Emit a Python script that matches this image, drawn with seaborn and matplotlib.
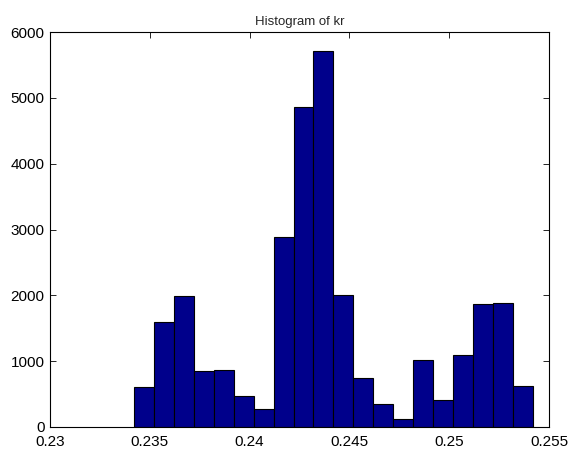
import numpy as np
import pandas as pd
import matplotlib
matplotlib.use("Agg")
import matplotlib.pyplot as plt
import seaborn as sns

# data
bin_left = 0.2342
bin_width = 0.001
counts = [605, 1600, 1990, 850, 865, 470, 270, 2880, 4860, 5710,
          2000, 745, 350, 120, 1015, 410, 1095, 1870, 1885, 620]
xticks = [0.23, 0.235, 0.24, 0.245, 0.25, 0.255]
xtick_labels = ["0.23", "0.235", "0.24", "0.245", "0.25", "0.255"]
yticks = [0, 1000, 2000, 3000, 4000, 5000, 6000]
title = "Histogram of kr"

nb = len(counts)
edges = bin_left + bin_width * np.arange(nb + 1)
centers = (edges[:-1] + edges[1:]) / 2
df = pd.DataFrame({"kr": centers, "n": counts})

sns.set_style("white")
plt.rcParams['font.family'] = ['Liberation Sans', 'DejaVu Sans']

fig = plt.figure(figsize=(5.72, 4.54), dpi=100)
ax = fig.add_axes([50/572, 1 - 427/454, 499/572, 395/454])

sns.histplot(data=df, x="kr", weights="n", bins=nb,
             binrange=(float(edges[0]), float(edges[-1])), ax=ax,
             color='#00008B', alpha=1, edgecolor='black', linewidth=0.8)

ax.set_xlim(0.23, 0.255)
ax.set_ylim(0, 6000)
ax.set_xticks(xticks)
ax.set_xticklabels(xtick_labels)
ax.set_yticks(yticks)
ax.set_ylabel("")
ax.set_xlabel("")
ax.tick_params(direction='in', length=4, width=0.6, labelsize=11,
               top=True, right=True, bottom=True, left=True, colors='black')
ax.tick_params(axis='x', pad=6)
ax.tick_params(axis='y', pad=4)
for s in ax.spines.values():
    s.set_visible(True)
    s.set_color('black')
    s.set_linewidth(0.8)
ax.set_title(title, fontsize=9.5, pad=5)

fig.savefig("out.png", dpi=100)
